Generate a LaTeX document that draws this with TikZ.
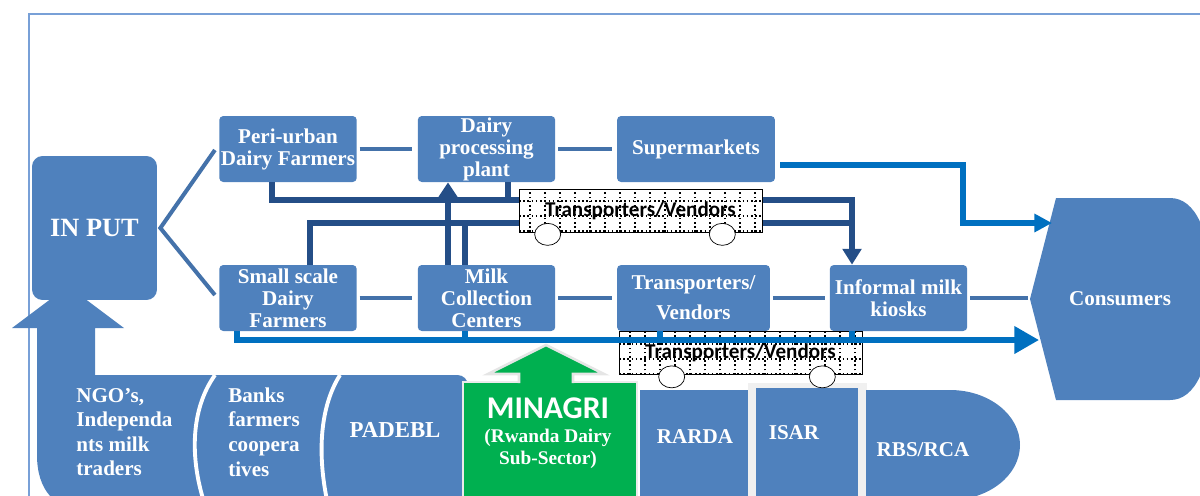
\documentclass[tikz,border=0pt]{standalone}
\usepackage{fontspec}
\setmainfont{Liberation Serif}
\newfontfamily\calibri{Carlito}
\usetikzlibrary{calc, arrows.meta}

\definecolor{boxblue}{RGB}{79,129,189}
\definecolor{linkblue}{RGB}{68,114,170}
\definecolor{darkblue}{RGB}{36,78,135}
\definecolor{brightblue}{RGB}{0,112,192}
\definecolor{minagrigreen}{RGB}{0,176,80}
\definecolor{framecol}{RGB}{120,160,215}

\begin{document}
\begin{tikzpicture}[x=0.02cm, y=-0.02cm,
  box/.style={fill=boxblue, rounded corners=2.3pt, text=white, align=center, inner sep=0pt,
    minimum width=2.75cm, minimum height=1.32cm, font=\bfseries\fontsize{12}{12.5}\selectfont},
  lbl/.style={text=white, inner sep=0pt, font=\bfseries\fontsize{12}{14}\selectfont},
  link/.style={draw=linkblue, line width=2.3pt},
  darkline/.style={draw=darkblue, line width=3.6pt},
  brightline/.style={draw=brightblue, line width=3.2pt},
  bus/.style={draw, fill=white, thin, minimum width=4.86cm, minimum height=0.86cm, inner sep=0pt,
    font=\calibri\bfseries\fontsize{12}{12}\selectfont,
    path picture={\draw[dash pattern=on 0.9pt off 1.5pt, line width=0.9pt] (path picture bounding box.south west)
      grid[step=0.3cm] (path picture bounding box.north east);}},
  wheel/.style={draw, fill=white, thin},
  sep/.style={draw=white, line width=2.2pt},
]
  \useasboundingbox (0,0) rectangle (1200,495);
  \draw[framecol, line width=1.1pt] (29,510) -- (29,14) -- (1210,14);

  % bottom band, its arrow goes up into IN PUT
  \fill[boxblue] (68,286) -- (124,328) -- (95,328) -- (95,375) [rounded corners=6pt] -- (468,375)
    -- (468,510) [sharp corners] -- (85,510) .. controls (55,510) and (37,490) .. (37,455)
    -- (37,328) -- (12,328) -- cycle;
  \draw[sep] (215,375) .. controls (190,410) and (190,460) .. (205,505);
  \draw[sep] (340,375) .. controls (318,410) and (318,460) .. (328,505);
  \fill[boxblue] (640,390) rectangle (748,510);
  \fill[black!6] (748,383) rectangle (867,510);
  \fill[boxblue] (756,388) rectangle (858,510);
  \fill[boxblue] (866,390) -- (950,390) .. controls (988.7,390) and (1020,414.6) .. (1020,445)
    .. controls (1020,475.4) and (988.7,500) .. (950,500) -- (866,500) -- cycle;
  % MINAGRI and its arrow
  \filldraw[fill=minagrigreen, draw=black!8, line width=1.5pt] (463,382) rectangle (637,510);
  \fill[minagrigreen] (546,345) -- (604,374) -- (573,374) -- (573,392) -- (519,392) -- (519,374)
    -- (488,374) -- cycle;
  \draw[black!10, line width=1.5pt] (519,383) -- (519,374) -- (488,374) -- (546,345) -- (604,374)
    -- (573,374) -- (573,383);

  \node[lbl, align=left, anchor=west] (ngo) at (76,432) {NGO’s,\\Independa\\nts milk\\traders};
  \node[lbl, align=left, anchor=west] (banks) at (228,432) {Banks\\farmers\\coopera\\tives};
  \node[lbl, font=\bfseries\fontsize{13}{14}\selectfont] (padebl) at (395,430) {PADEBL};
  \node[text=white, inner sep=0pt, font=\calibri\bfseries\fontsize{18}{18}\selectfont] (minagri) at (548,408) {MINAGRI};
  \node[lbl, align=center, font=\bfseries\fontsize{11}{12.5}\selectfont] (rwanda) at (548,449) {(Rwanda Dairy\\Sub-Sector)};
  \node[lbl] (rarda) at (695,437) {RARDA};
  \node[lbl] (isar) at (794,433) {ISAR};
  \node[lbl] (rbs) at (923,450) {RBS/RCA};

  % consumers
  \fill[boxblue] (1030,299) -- (1056,198) -- (1170,198) .. controls (1195,198) and (1212,230) .. (1212,299)
    .. controls (1212,368) and (1195,400) .. (1170,400) -- (1056,400) -- cycle;
  \node[lbl] (cons) at (1120,299) {Consumers};
  \coordinate (cpt) at (1028,298);
  \coordinate (cin1) at (1052,223);
  \coordinate (cin2) at (1039,340);

  % chain boxes
  \node[box, minimum width=2.5cm, minimum height=2.88cm, rounded corners=6pt,
    font=\bfseries\fontsize{15}{15}\selectfont] (input) at (94.5,228) {IN PUT};
  \node[box] (peri) at (288,149) {Peri-urban\\Dairy Farmers};
  \node[box] (plant) at (486.5,149) {Dairy\\processing\\plant};
  \node[box, minimum width=3.16cm] (super) at (696,149) {Supermarkets};
  \node[box] (small) at (288,298) {Small scale\\Dairy\\Farmers};
  \node[box] (milk) at (486.5,298) {Milk\\Collection\\Centers};
  \node[box, minimum width=3.06cm, font=\bfseries\fontsize{12}{17}\selectfont] (trans) at (693.5,298) {Transporters/\\Vendors};
  \node[box] (kiosk) at (898.5,298) {Informal milk\\kiosks};

  \draw[link] ($(peri.west)+(-4,1)$) -- ($(input.east)+(3,0)$) -- ($(small.west)+(-4,-3)$);
  \foreach \a/\b in {peri/plant, plant/super, small/milk, milk/trans, trans/kiosk}
    \draw[link, shorten <=1.5pt, shorten >=2.8pt] (\a.east) -- (\b.west);
  \draw[link, shorten <=1.5pt] (kiosk.east) -- (cpt);

  % dark lines to the kiosks and to the plant
  \coordinate (topbend) at (852,200);
  \coordinate (lowbend) at (852,223);
  \draw[darkline, -{Triangle[width=10.5pt,length=9pt]}] ($(peri.south)+(-16,0)$) |- (topbend) -- (topbend |- kiosk.north);
  \draw[darkline] ($(plant.south)+(21.5,0)$) -- ++(0,18);
  \draw[darkline] ($(small.north)+(22,0)$) |- (lowbend);
  \draw[darkline] ($(milk.north)+(-21.5,0)$) -- ++(0,-42);
  \draw[darkline, -{Triangle[width=10.5pt,length=8.5pt]}] ($(milk.north)+(-38.5,0)$) -- ($(plant.south)+(-38.5,0)$);

  % the two vans
  \node[bus] (bus1) at (640.5,210.5) {Transporters/Vendors};
  \node[bus] (bus2) at (740.5,353) {Transporters/Vendors};
  \foreach \b/\l in {bus1/29, bus2/53} {
    \draw[wheel] ($(\b.south west)+(\l,2)$) ellipse [x radius=13, y radius=11];
    \draw[wheel] ($(\b.south east)+(-40,2)$) ellipse [x radius=13, y radius=11];
  }

  % bright lines to the consumers
  \draw[brightline, -{Triangle[width=10pt,length=10pt]}] ($(super.east)+(5,16)$) -| ($(cin1)+(-89,0)$) -- (cin1);
  \draw[brightline, -{Triangle[width=15pt,length=14pt]}] ($(small.south west)+(18,0)$) |- (cin2);
  \foreach \n/\dx in {milk/-21.5, trans/-33.5, kiosk/-46.5}
    \draw[brightline] ($(\n.south)+(\dx,0)$) -- ++(0,9);
\end{tikzpicture}
\end{document}
